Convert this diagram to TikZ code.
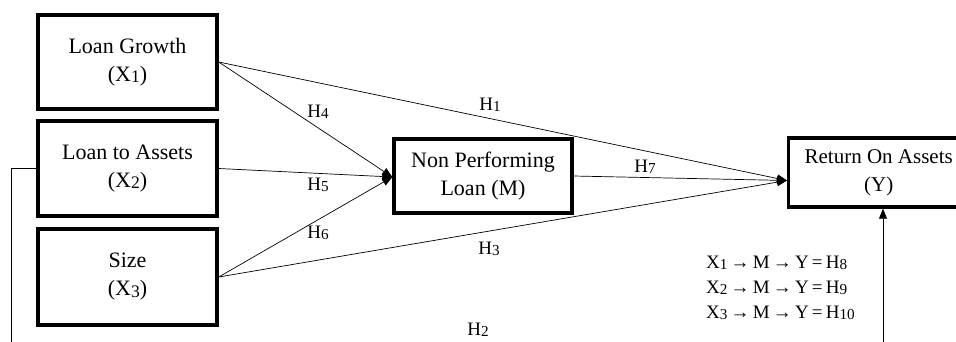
\documentclass[tikz,border=0pt]{standalone}
\usepackage{fontspec}
\setmainfont{Liberation Serif}
\usetikzlibrary{arrows.meta,calc}
\newcommand{\lo}[1]{\raisebox{-0.06em}{\scalebox{0.8}{#1}}}
\begin{document}
\begin{tikzpicture}[x=1pt,y=-1pt,
  box/.style={draw,line width=3.4pt,minimum width=179pt,align=center,inner sep=0pt,
     font=\fontsize{22pt}{28pt}\selectfont},
  conn/.style={line width=0.7pt,-{Triangle[length=10pt,width=8pt]}},
  plain/.style={line width=0.7pt},
  hl/.style={font=\fontsize{19pt}{20pt}\selectfont,inner sep=0pt},
  fl/.style={font=\fontsize{19pt}{20pt}\selectfont,inner sep=0pt,anchor=west}]
\useasboundingbox (0,0) rectangle (956,341);
\node[box,minimum height=94pt] (x1) at (127.5,62) {Loan Growth\\(X\lo{1})};
\node[box,minimum height=95pt] (x2) at (127.5,168.5) {Loan to Assets\\(X\lo{2})};
\node[box,minimum height=96pt] (x3) at (127.5,277) {Size\\(X\lo{3})};
\node[box,minimum width=178pt,minimum height=74pt] (m) at (483,176) {Non Performing\\Loan (M)};
\node[box,minimum width=180pt,minimum height=69pt,anchor=west,
      font=\fontsize{21pt}{28pt}\selectfont] (y) at (787,172.5) {Return On Assets\\(Y)};
\coordinate (min) at ([yshift=-1pt]m.west);
\coordinate (yin) at ([yshift=-8pt]y.west);
\coordinate (lb) at (11,345);
\coordinate (rb) at (883,345);
\draw[conn] (x1.east) -- (min);
\draw[conn] (x2.east) -- (min);
\draw[conn] (x3.east) -- (min);
\draw[conn] (x1.east) -- (yin);
\draw[conn] (x3.east) -- (yin);
\draw[conn] (m.east) -- (yin);
\draw[plain] (x2.west) -| (lb);
\draw[conn] (rb) -- (rb |- y.south);
\node[hl] (h4) at (318,112) {H\lo{4}};
\node[hl] (h1) at (490,105) {H\lo{1}};
\node[hl] (h5) at (318,185) {H\lo{5}};
\node[hl] (h6) at (318,233) {H\lo{6}};
\node[hl] (h3) at (489,249) {H\lo{3}};
\node[hl] (h7) at (645,167) {H\lo{7}};
\node[hl] (h2) at (478,330) {H\lo{2}};
\node[fl] (f1) at (706,263) {X\lo{1}\,→\,M\,→\,Y\,=\,H\lo{8}};
\node[fl] (f2) at (706,288) {X\lo{2}\,→\,M\,→\,Y\,=\,H\lo{9}};
\node[fl] (f3) at (706,313) {X\lo{3}\,→\,M\,→\,Y\,=\,H\lo{10}};
\end{tikzpicture}
\end{document}
